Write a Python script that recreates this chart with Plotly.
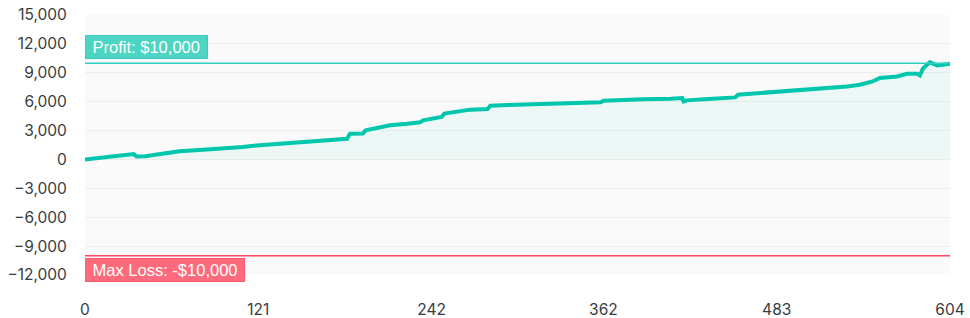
import plotly.graph_objects as go

trade_index = [0, 10, 20, 31, 34, 36, 42, 55, 66, 80, 99, 110, 122, 140, 159, 170, 183, 185,
               194, 196, 206, 213, 225, 234, 236, 249, 251, 260, 269, 281, 283, 295, 304, 330,
               360, 362, 374, 390, 409, 417, 418, 420, 435, 454, 456, 475, 494, 510, 522, 532,
               541, 550, 555, 567, 574, 581, 583, 585, 590, 595, 604]
cumulative_pnl = [0, 150, 310, 480, 560, 300, 340, 620, 859, 980, 1138, 1300, 1479, 1680, 1893,
                  2010, 2152, 2659, 2690, 3031, 3279, 3548, 3700, 3859, 4066, 4417, 4759, 4950,
                  5172, 5245, 5586, 5650, 5690, 5800, 5928, 6104, 6207, 6260, 6310, 6383, 6031,
                  6135, 6280, 6445, 6724, 6920, 7138, 7280, 7417, 7583, 7759, 8100, 8452, 8617,
                  8897, 8897, 8721, 9414, 10107, 9755, 9931]

x_ticks = [0, 121, 242, 362, 483, 604]
y_ticks = [-12000, -9000, -6000, -3000, 0, 3000, 6000, 9000, 12000, 15000]
profit_target = 10000
max_loss = -10000
profit_label = "Profit: $10,000"
loss_label = "Max Loss: -$10,000"

LINE = "#00c6ae"
PROFIT = "#2fd0bf"
LOSS = "#ff4560"

fig = go.Figure()
fig.add_trace(go.Scatter(
    x=trade_index, y=cumulative_pnl, mode="lines",
    line=dict(color=LINE, width=4),
    fill="tozeroy", fillcolor="rgba(0,198,174,0.05)",
    hoverinfo="skip", showlegend=False,
))

fig.add_hline(y=profit_target, line=dict(color=PROFIT, width=1.5))
fig.add_hline(y=max_loss, line=dict(color=LOSS, width=1.5))

fig.add_annotation(
    x=0, xref="paper", xanchor="left", y=profit_target, yref="y", yanchor="bottom",
    yshift=4, text="\u00a0" + profit_label + "\u00a0", showarrow=False,
    font=dict(family="Liberation Sans, Arial", size=16.5, color="white"),
    bgcolor="#4dd5c4", bordercolor="#37cfbc", borderwidth=1, borderpad=2,
)
fig.add_annotation(
    x=0, xref="paper", xanchor="left", y=max_loss, yref="y", yanchor="top",
    yshift=-2, text="\u00a0" + loss_label + "\u00a0", showarrow=False,
    font=dict(family="Liberation Sans, Arial", size=16.5, color="white"),
    bgcolor="#ff6b7c", bordercolor="#ff5a6e", borderwidth=1, borderpad=2,
)

fig.update_layout(
    width=970, height=318,
    margin=dict(l=85, r=20, t=15, b=43),
    paper_bgcolor="white", plot_bgcolor="#fafafa",
    font=dict(family="Inter, sans-serif", size=15.5, color="#373d3f"),
    xaxis=dict(range=[0, 604], tickvals=x_ticks, ticktext=[str(v) for v in x_ticks],
               showgrid=False, zeroline=False, showline=False, automargin=False,
               ticks="outside", ticklen=20, tickcolor="rgba(0,0,0,0)"),
    yaxis=dict(range=[-12000, 15000], tickvals=y_ticks,
               ticktext=[f"{v:,}".replace("-", "\u2212") for v in y_ticks],
               showgrid=True, gridcolor="#eeeeee", gridwidth=1, zeroline=False,
               automargin=False,
               ticks="outside", ticklen=14, tickcolor="rgba(0,0,0,0)"),
)

fig.write_html("out.html")
